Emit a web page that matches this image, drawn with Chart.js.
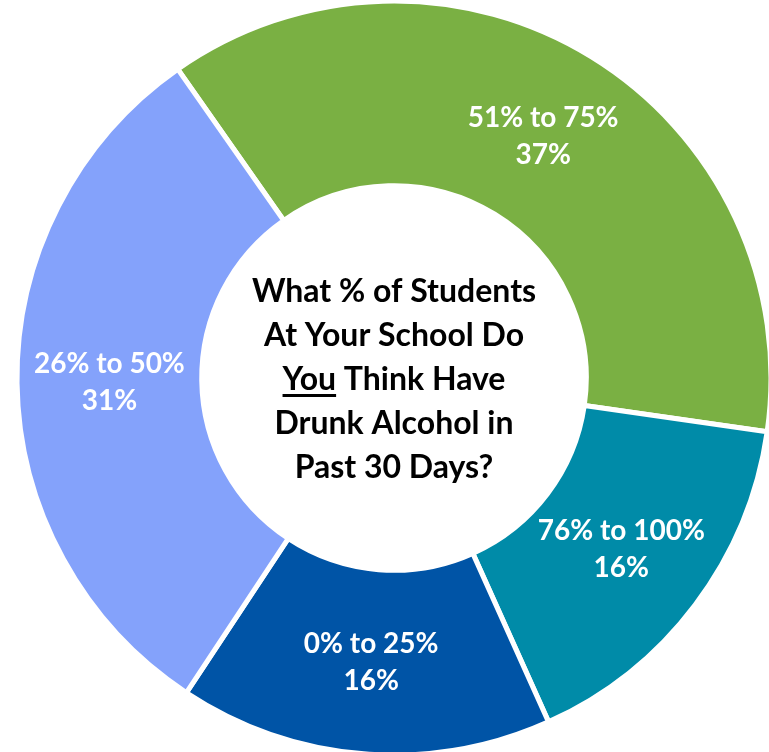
<!DOCTYPE html>
<html>
<head>
<meta charset="utf-8">
<script src="https://cdn.jsdelivr.net/npm/chart.js@4.4.0/dist/chart.umd.min.js"></script>
<style>
  body { margin: 0; background: #fff; }
  #wrap { width: 769px; height: 752px; }
</style>
</head>
<body>
<div id="wrap"><canvas id="donut" width="769" height="752"></canvas></div>
<script>
// slices, clockwise from the top-left boundary
const categories = ['51% to 75%', '76% to 100%', '0% to 25%', '26% to 50%'];
const shares = [37, 16, 16, 31];
const sliceColors = ['#7AB043', '#008BA8', '#0054A6', '#84A2FB'];
const centerLines = ['What % of Students', 'At Your School Do', 'You Think Have', 'Drunk Alcohol in', 'Past 30 Days?'];

const FONT = 'Lato, "Open Sans", sans-serif';

// white labels inside each slice
const sliceLabels = {
  id: 'sliceLabels',
  afterDatasetsDraw(chart) {
    const ctx = chart.ctx;
    const arcs = chart.getDatasetMeta(0).data;
    ctx.save();
    ctx.fillStyle = '#fff';
    ctx.font = 'bold 28px ' + FONT;
    ctx.textAlign = 'center';
    ctx.textBaseline = 'middle';
    arcs.forEach((arc, i) => {
      const p = arc.tooltipPosition();
      ctx.fillText(categories[i], p.x, p.y - 18);
      ctx.fillText(shares[i] + '%', p.x, p.y + 19);
    });
    ctx.restore();
  }
};

// question text in the hole
const centerText = {
  id: 'centerText',
  afterDatasetsDraw(chart) {
    const ctx = chart.ctx;
    const arc = chart.getDatasetMeta(0).data[0];
    const cx = arc.x, cy = arc.y;
    const lh = 44;
    ctx.save();
    ctx.fillStyle = '#000';
    ctx.font = 'bold 32px ' + FONT;
    ctx.textAlign = 'center';
    ctx.textBaseline = 'alphabetic';
    const top = cy - (centerLines.length - 1) * lh / 2 + 12;
    centerLines.forEach((line, i) => {
      const y = top + i * lh;
      ctx.fillText(line, cx, y);
      if (i === 2) {
        // underline "You"
        const full = ctx.measureText(line).width;
        const w = ctx.measureText('You').width;
        const x0 = cx - full / 2;
        ctx.fillRect(x0, y + 4, w, 3);
      }
    });
    ctx.restore();
  }
};

new Chart(document.getElementById('donut'), {
  type: 'doughnut',
  data: {
    labels: categories,
    datasets: [{
      data: shares,
      backgroundColor: sliceColors,
      borderColor: '#fff',
      borderWidth: 5
    }]
  },
  options: {
    responsive: false,
    animation: false,
    rotation: -35,
    radius: 377,
    cutout: '51%',
    layout: { padding: { left: 20, right: 1, top: 4, bottom: 0 } },
    plugins: {
      legend: { display: false },
      tooltip: { enabled: false }
    }
  },
  plugins: [sliceLabels, centerText]
});
</script>
</body>
</html>
